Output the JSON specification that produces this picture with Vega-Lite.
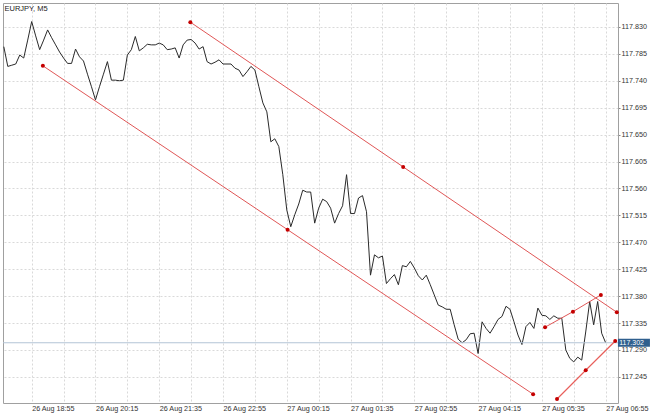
{
  "$schema": "https://vega.github.io/schema/vega-lite/v6.json",
  "width": 615,
  "height": 400,
  "autosize": "none",
  "padding": {"left": 3, "top": 3, "right": 32, "bottom": 12},
  "background": "white",
  "title": {"text": "EURJPY, M5", "anchor": "start", "frame": "group", "orient": "top", "offset": -13, "dx": 1.5, "fontSize": 7.5, "fontWeight": "normal", "font": "Liberation Sans", "color": "#222", "baseline": "middle"},
  "config": {
    "view": {"stroke": "#a0a0a0", "strokeWidth": 1},
    "axis": {"labelFont": "Liberation Sans", "labelFontSize": 7.2, "labelColor": "#333", "gridColor": "#d9d9d9", "gridDash": [2, 2], "gridWidth": 1, "domain": false, "labelOverlap": false, "labelFlush": false, "labelBound": false}
  },
  "datasets": {
    "series": [
      {"t": "2019-08-26T18:20", "p": 117.797}, {"t": "2019-08-26T18:25", "p": 117.764}, {"t": "2019-08-26T18:30", "p": 117.766}, {"t": "2019-08-26T18:35", "p": 117.768},
      {"t": "2019-08-26T18:40", "p": 117.783}, {"t": "2019-08-26T18:45", "p": 117.778}, {"t": "2019-08-26T18:50", "p": 117.808}, {"t": "2019-08-26T18:55", "p": 117.839},
      {"t": "2019-08-26T19:00", "p": 117.815}, {"t": "2019-08-26T19:05", "p": 117.792}, {"t": "2019-08-26T19:10", "p": 117.808}, {"t": "2019-08-26T19:15", "p": 117.825},
      {"t": "2019-08-26T19:20", "p": 117.812}, {"t": "2019-08-26T19:25", "p": 117.800}, {"t": "2019-08-26T19:30", "p": 117.788}, {"t": "2019-08-26T19:35", "p": 117.778},
      {"t": "2019-08-26T19:40", "p": 117.769}, {"t": "2019-08-26T19:45", "p": 117.769}, {"t": "2019-08-26T19:50", "p": 117.793}, {"t": "2019-08-26T19:55", "p": 117.780},
      {"t": "2019-08-26T20:00", "p": 117.773}, {"t": "2019-08-26T20:05", "p": 117.751}, {"t": "2019-08-26T20:10", "p": 117.730}, {"t": "2019-08-26T20:15", "p": 117.708},
      {"t": "2019-08-26T20:20", "p": 117.730}, {"t": "2019-08-26T20:25", "p": 117.751}, {"t": "2019-08-26T20:30", "p": 117.772}, {"t": "2019-08-26T20:35", "p": 117.741},
      {"t": "2019-08-26T20:40", "p": 117.741}, {"t": "2019-08-26T20:45", "p": 117.740}, {"t": "2019-08-26T20:50", "p": 117.741}, {"t": "2019-08-26T20:55", "p": 117.783},
      {"t": "2019-08-26T21:00", "p": 117.792}, {"t": "2019-08-26T21:05", "p": 117.814}, {"t": "2019-08-26T21:10", "p": 117.790}, {"t": "2019-08-26T21:15", "p": 117.795},
      {"t": "2019-08-26T21:20", "p": 117.801}, {"t": "2019-08-26T21:25", "p": 117.800}, {"t": "2019-08-26T21:30", "p": 117.800}, {"t": "2019-08-26T21:35", "p": 117.803},
      {"t": "2019-08-26T21:40", "p": 117.800}, {"t": "2019-08-26T21:45", "p": 117.792}, {"t": "2019-08-26T21:50", "p": 117.793}, {"t": "2019-08-26T21:55", "p": 117.795},
      {"t": "2019-08-26T22:00", "p": 117.778}, {"t": "2019-08-26T22:05", "p": 117.800}, {"t": "2019-08-26T22:10", "p": 117.808}, {"t": "2019-08-26T22:15", "p": 117.809},
      {"t": "2019-08-26T22:20", "p": 117.803}, {"t": "2019-08-26T22:25", "p": 117.793}, {"t": "2019-08-26T22:30", "p": 117.797}, {"t": "2019-08-26T22:35", "p": 117.772},
      {"t": "2019-08-26T22:40", "p": 117.768}, {"t": "2019-08-26T22:45", "p": 117.771}, {"t": "2019-08-26T22:50", "p": 117.775}, {"t": "2019-08-26T22:55", "p": 117.768},
      {"t": "2019-08-26T23:00", "p": 117.768}, {"t": "2019-08-26T23:05", "p": 117.768}, {"t": "2019-08-26T23:10", "p": 117.761}, {"t": "2019-08-26T23:15", "p": 117.758},
      {"t": "2019-08-26T23:20", "p": 117.747}, {"t": "2019-08-26T23:25", "p": 117.755}, {"t": "2019-08-26T23:30", "p": 117.764}, {"t": "2019-08-26T23:35", "p": 117.758},
      {"t": "2019-08-26T23:40", "p": 117.730}, {"t": "2019-08-26T23:45", "p": 117.703}, {"t": "2019-08-26T23:50", "p": 117.688}, {"t": "2019-08-26T23:55", "p": 117.638},
      {"t": "2019-08-27T00:00", "p": 117.643}, {"t": "2019-08-27T00:05", "p": 117.630}, {"t": "2019-08-27T00:10", "p": 117.583}, {"t": "2019-08-27T00:15", "p": 117.524},
      {"t": "2019-08-27T00:20", "p": 117.496}, {"t": "2019-08-27T00:25", "p": 117.516}, {"t": "2019-08-27T00:30", "p": 117.534}, {"t": "2019-08-27T00:35", "p": 117.557},
      {"t": "2019-08-27T00:40", "p": 117.554}, {"t": "2019-08-27T00:45", "p": 117.554}, {"t": "2019-08-27T00:50", "p": 117.502}, {"t": "2019-08-27T00:55", "p": 117.527},
      {"t": "2019-08-27T01:00", "p": 117.542}, {"t": "2019-08-27T01:05", "p": 117.538}, {"t": "2019-08-27T01:10", "p": 117.527}, {"t": "2019-08-27T01:15", "p": 117.502},
      {"t": "2019-08-27T01:20", "p": 117.518}, {"t": "2019-08-27T01:25", "p": 117.531}, {"t": "2019-08-27T01:30", "p": 117.583}, {"t": "2019-08-27T01:35", "p": 117.518},
      {"t": "2019-08-27T01:40", "p": 117.518}, {"t": "2019-08-27T01:45", "p": 117.544}, {"t": "2019-08-27T01:50", "p": 117.548}, {"t": "2019-08-27T01:55", "p": 117.521},
      {"t": "2019-08-27T02:00", "p": 117.415}, {"t": "2019-08-27T02:05", "p": 117.449}, {"t": "2019-08-27T02:10", "p": 117.444}, {"t": "2019-08-27T02:15", "p": 117.447},
      {"t": "2019-08-27T02:20", "p": 117.401}, {"t": "2019-08-27T02:25", "p": 117.409}, {"t": "2019-08-27T02:30", "p": 117.416}, {"t": "2019-08-27T02:35", "p": 117.399},
      {"t": "2019-08-27T02:40", "p": 117.431}, {"t": "2019-08-27T02:45", "p": 117.429}, {"t": "2019-08-27T02:50", "p": 117.438}, {"t": "2019-08-27T02:55", "p": 117.427},
      {"t": "2019-08-27T03:00", "p": 117.414}, {"t": "2019-08-27T03:05", "p": 117.407}, {"t": "2019-08-27T03:10", "p": 117.415}, {"t": "2019-08-27T03:15", "p": 117.399},
      {"t": "2019-08-27T03:20", "p": 117.382}, {"t": "2019-08-27T03:25", "p": 117.365}, {"t": "2019-08-27T03:30", "p": 117.362}, {"t": "2019-08-27T03:35", "p": 117.358},
      {"t": "2019-08-27T03:40", "p": 117.358}, {"t": "2019-08-27T03:45", "p": 117.332}, {"t": "2019-08-27T03:50", "p": 117.308}, {"t": "2019-08-27T03:55", "p": 117.302},
      {"t": "2019-08-27T04:00", "p": 117.307}, {"t": "2019-08-27T04:05", "p": 117.317}, {"t": "2019-08-27T04:10", "p": 117.318}, {"t": "2019-08-27T04:15", "p": 117.284},
      {"t": "2019-08-27T04:20", "p": 117.337}, {"t": "2019-08-27T04:25", "p": 117.326}, {"t": "2019-08-27T04:30", "p": 117.318}, {"t": "2019-08-27T04:35", "p": 117.329},
      {"t": "2019-08-27T04:40", "p": 117.341}, {"t": "2019-08-27T04:45", "p": 117.346}, {"t": "2019-08-27T04:50", "p": 117.363}, {"t": "2019-08-27T04:55", "p": 117.358},
      {"t": "2019-08-27T05:00", "p": 117.337}, {"t": "2019-08-27T05:05", "p": 117.315}, {"t": "2019-08-27T05:10", "p": 117.299}, {"t": "2019-08-27T05:15", "p": 117.329},
      {"t": "2019-08-27T05:20", "p": 117.336}, {"t": "2019-08-27T05:25", "p": 117.326}, {"t": "2019-08-27T05:30", "p": 117.360}, {"t": "2019-08-27T05:35", "p": 117.348},
      {"t": "2019-08-27T05:40", "p": 117.347}, {"t": "2019-08-27T05:45", "p": 117.341}, {"t": "2019-08-27T05:50", "p": 117.347}, {"t": "2019-08-27T05:55", "p": 117.343},
      {"t": "2019-08-27T06:00", "p": 117.343}, {"t": "2019-08-27T06:05", "p": 117.290}, {"t": "2019-08-27T06:10", "p": 117.276}, {"t": "2019-08-27T06:15", "p": 117.270},
      {"t": "2019-08-27T06:20", "p": 117.278}, {"t": "2019-08-27T06:25", "p": 117.273}, {"t": "2019-08-27T06:30", "p": 117.320}, {"t": "2019-08-27T06:35", "p": 117.371},
      {"t": "2019-08-27T06:40", "p": 117.332}, {"t": "2019-08-27T06:45", "p": 117.371}, {"t": "2019-08-27T06:50", "p": 117.318}, {"t": "2019-08-27T06:55", "p": 117.302}
    ],
    "objects": [
      {"id": "L1", "t": "2019-08-26T19:09", "p": 117.765}, {"id": "L1", "t": "2019-08-27T00:16", "p": 117.491}, {"id": "L1", "t": "2019-08-27T05:24", "p": 117.216},
      {"id": "L2", "t": "2019-08-26T22:14", "p": 117.838}, {"id": "L2", "t": "2019-08-27T02:41", "p": 117.596}, {"id": "L2", "t": "2019-08-27T07:09", "p": 117.353},
      {"id": "L3", "t": "2019-08-27T05:39", "p": 117.328}, {"id": "L3", "t": "2019-08-27T06:14", "p": 117.354}, {"id": "L3", "t": "2019-08-27T06:49", "p": 117.382},
      {"id": "L4", "t": "2019-08-27T05:54", "p": 117.208}, {"id": "L4", "t": "2019-08-27T06:30", "p": 117.256}, {"id": "L4", "t": "2019-08-27T07:07", "p": 117.305}
    ],
    "cur": [{"p": 117.302, "label": "117.302"}]
  },
  "layer": [
    {
      "data": {"name": "series"},
      "mark": {"type": "line", "color": "#2a2a2a", "strokeWidth": 1, "interpolate": "linear"},
      "encoding": {
        "x": {
          "field": "t", "type": "temporal", "title": null,
          "scale": {"domain": [{"year": 2019, "month": "aug", "date": 26, "hours": 18, "minutes": 19}, {"year": 2019, "month": "aug", "date": 27, "hours": 7, "minutes": 10, "seconds": 30}], "nice": false},
          "axis": {
            "orient": "bottom",
            "tickCount": 40,
            "values": [
              {"year": 2019, "month": "aug", "date": 26, "hours": 18, "minutes": 55}, {"year": 2019, "month": "aug", "date": 26, "hours": 19, "minutes": 35},
              {"year": 2019, "month": "aug", "date": 26, "hours": 20, "minutes": 15}, {"year": 2019, "month": "aug", "date": 26, "hours": 20, "minutes": 55},
              {"year": 2019, "month": "aug", "date": 26, "hours": 21, "minutes": 35}, {"year": 2019, "month": "aug", "date": 26, "hours": 22, "minutes": 15},
              {"year": 2019, "month": "aug", "date": 26, "hours": 22, "minutes": 55}, {"year": 2019, "month": "aug", "date": 26, "hours": 23, "minutes": 35},
              {"year": 2019, "month": "aug", "date": 27, "hours": 0, "minutes": 15}, {"year": 2019, "month": "aug", "date": 27, "hours": 0, "minutes": 55},
              {"year": 2019, "month": "aug", "date": 27, "hours": 1, "minutes": 35}, {"year": 2019, "month": "aug", "date": 27, "hours": 2, "minutes": 15},
              {"year": 2019, "month": "aug", "date": 27, "hours": 2, "minutes": 55}, {"year": 2019, "month": "aug", "date": 27, "hours": 3, "minutes": 35},
              {"year": 2019, "month": "aug", "date": 27, "hours": 4, "minutes": 15}, {"year": 2019, "month": "aug", "date": 27, "hours": 4, "minutes": 55},
              {"year": 2019, "month": "aug", "date": 27, "hours": 5, "minutes": 35}, {"year": 2019, "month": "aug", "date": 27, "hours": 6, "minutes": 15},
              {"year": 2019, "month": "aug", "date": 27, "hours": 6, "minutes": 55}
            ],
            "labelExpr": "(hours(datum.value) * 60 + minutes(datum.value)) % 80 == 15 ? timeFormat(datum.value, '%d %b %H:%M') : ''",
            "labelAlign": "left", "labelBaseline": "top", "labelPadding": 1, "ticks": false, "grid": true
          }
        },
        "y": {
          "field": "p", "type": "quantitative", "title": null,
          "scale": {"domain": [117.2013, 117.870], "nice": false, "zero": false},
          "axis": {
            "orient": "right",
            "tickCount": 40,
            "values": [117.245, 117.29, 117.335, 117.38, 117.425, 117.47, 117.515, 117.56, 117.605, 117.65, 117.695, 117.74, 117.785, 117.83],
            "labelExpr": "format(datum.value, '.3f')",
            "tickSize": 2, "tickColor": "#888", "labelPadding": 1, "labelAlign": "left", "labelBaseline": "middle", "grid": true
          }
        }
      }
    },
    {
      "data": {"name": "cur"},
      "mark": {"type": "rule", "color": "#b3c4d6", "strokeWidth": 1},
      "encoding": {
        "y": {"field": "p", "type": "quantitative", "title": null}
      }
    },
    {
      "data": {"name": "objects"},
      "transform": [{"filter": "datum.id != 'L4'"}],
      "mark": {"type": "line", "strokeWidth": 1, "clip": false},
      "encoding": {
        "x": {"field": "t", "type": "temporal", "title": null},
        "y": {"field": "p", "type": "quantitative", "title": null},
        "detail": {"field": "id", "type": "nominal"},
        "color": {"value": "#e05757"}
      }
    },
    {
      "data": {"name": "objects"},
      "transform": [{"filter": "datum.id == 'L4'"}],
      "mark": {"type": "line", "strokeWidth": 1.2, "strokeCap": "round", "clip": false},
      "encoding": {
        "x": {"field": "t", "type": "temporal", "title": null},
        "y": {"field": "p", "type": "quantitative", "title": null},
        "color": {"value": "#e8605c"}
      }
    },
    {
      "data": {"name": "objects"},
      "mark": {"type": "point", "filled": true, "size": 16, "opacity": 1, "clip": false},
      "encoding": {
        "x": {"field": "t", "type": "temporal", "title": null},
        "y": {"field": "p", "type": "quantitative", "title": null},
        "color": {"value": "#c40000"}
      }
    },
    {
      "data": {"name": "cur"},
      "mark": {"type": "tick", "orient": "horizontal", "color": "#2f5f8e", "size": 32, "thickness": 8, "opacity": 1, "clip": false},
      "encoding": {
        "x": {"datum": {"year": 2019, "month": "aug", "date": 27, "hours": 7, "minutes": 30, "seconds": 30}, "type": "temporal"},
        "y": {"field": "p", "type": "quantitative", "title": null}
      }
    },
    {
      "data": {"name": "cur"},
      "mark": {"type": "text", "color": "white", "font": "Liberation Sans", "fontSize": 7, "align": "left", "baseline": "middle", "clip": false},
      "encoding": {
        "x": {"datum": {"year": 2019, "month": "aug", "date": 27, "hours": 7, "minutes": 12}, "type": "temporal"},
        "y": {"field": "p", "type": "quantitative", "title": null},
        "text": {"field": "label"}
      }
    }
  ]
}
